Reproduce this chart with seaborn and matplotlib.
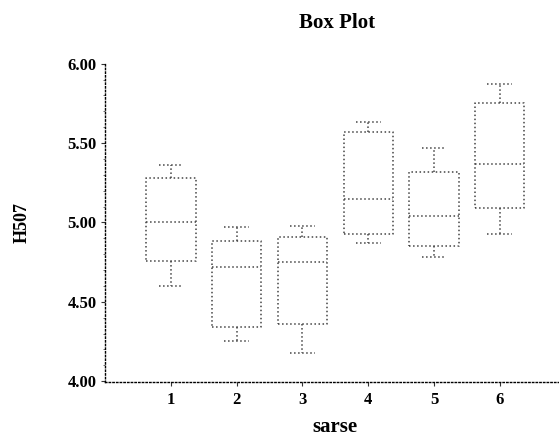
import numpy as np
import pandas as pd
import matplotlib
matplotlib.use("Agg")
import matplotlib.pyplot as plt
import seaborn as sns
from matplotlib.ticker import MultipleLocator

# five-number summaries (min, q1, median, q3, max)
groups = ["1", "2", "3", "4", "5", "6"]
g_min = [4.60, 4.25, 4.18, 4.87, 4.78, 4.93]
g_q1 = [4.76, 4.34, 4.36, 4.93, 4.85, 5.09]
g_med = [5.00, 4.72, 4.75, 5.15, 5.04, 5.37]
g_q3 = [5.28, 4.88, 4.91, 5.57, 5.32, 5.75]
g_max = [5.36, 4.97, 4.98, 5.63, 5.47, 5.87]

rows = []
for g, a, b, c, d, e in zip(groups, g_min, g_q1, g_med, g_q3, g_max):
    for v in (a, b, c, d, e):
        rows.append({"sarse": g, "H507": v})
df = pd.DataFrame(rows)

sns.set_theme(style="white")
plt.rcParams["font.family"] = ["Liberation Serif", "DejaVu Serif"]
plt.rcParams["font.weight"] = "bold"
plt.rcParams["text.color"] = "black"
plt.rcParams["axes.labelcolor"] = "black"
plt.rcParams["xtick.color"] = "black"
plt.rcParams["ytick.color"] = "black"

fig = plt.figure(figsize=(5.59, 4.37), dpi=100)
ax = fig.add_axes([0.188, 0.126, 0.812, 0.73])

line = dict(linestyle=":", linewidth=1.1, color="#444444")
sns.boxplot(data=df, x="sarse", y="H507", order=groups, width=0.75,
            fill=False, whis=10, ax=ax,
            boxprops=line, medianprops=line, whiskerprops=line, capprops=line)

ax.set_xlim(-1, 5.9)
ax.set_ylim(3.995, 6.005)
ax.set_yticks([4.0, 4.5, 5.0, 5.5, 6.0])
ax.set_yticklabels(["4.00", "4.50", "5.00", "5.50", "6.00"])
ax.yaxis.set_minor_locator(MultipleLocator(0.1))

for side in ("top", "right"):
    ax.spines[side].set_visible(False)
for side in ("left", "bottom"):
    ax.spines[side].set_linestyle(":")
    ax.spines[side].set_color("black")
    ax.spines[side].set_linewidth(1.0)

ax.tick_params(axis="both", which="major", direction="out", length=3,
               width=0.8, color="#333333", labelcolor="black", labelsize=12,
               pad=3, left=True, bottom=True)
ax.tick_params(axis="y", which="minor", direction="out", length=1.5,
               width=0.6, color="#555555", left=True)
ax.tick_params(axis="x", pad=4)
for t in ax.get_xticklabels() + ax.get_yticklabels():
    t.set_fontweight("bold")

ax.set_title("Box Plot", fontsize=15, fontweight="bold", pad=25, x=0.511,
             color="black")
ax.set_xlabel("sarse", fontsize=15, fontweight="bold", color="black")
ax.set_ylabel("H507", fontsize=13, fontweight="bold", color="black")
ax.xaxis.set_label_coords(0.507, -0.11)
ax.yaxis.set_label_coords(-0.165, 0.50)

fig.savefig("out.png", dpi=100)
